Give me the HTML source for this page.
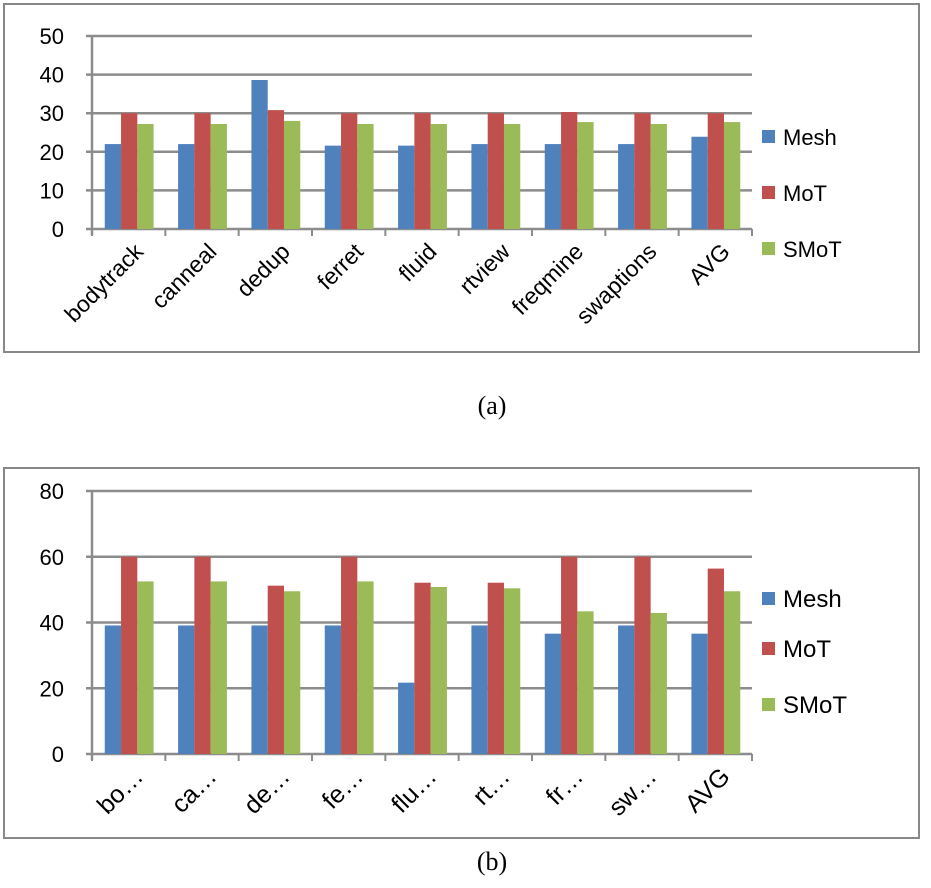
<!DOCTYPE html>
<html><head><meta charset="utf-8"><style>
body{margin:0;background:#fff;width:931px;height:883px;overflow:hidden}
svg{font-family:"Liberation Sans",sans-serif}
</style></head><body>
<svg id="s" width="931" height="883">
<rect x="4" y="4" width="915" height="348" fill="none" stroke="#888" stroke-width="2"/>
<rect x="4" y="468" width="915" height="370" fill="none" stroke="#888" stroke-width="2"/>
<text x="492" y="414" font-family="Liberation Serif" font-size="26" text-anchor="middle">(a)</text>
<text x="492" y="870" font-family="Liberation Serif" font-size="26" text-anchor="middle">(b)</text>
</svg>
<script>
const catsA=["bodytrack","canneal","dedup","ferret","fluid","rtview","freqmine","swaptions","AVG"];
const catsB=["bo…","ca…","de…","fe…","flu…","rt…","fr…","sw…","AVG"];
const seriesNames=["Mesh","MoT","SMoT"];
const meshA=[22,22,38.6,21.6,21.6,22,22,22,23.9];
const motA=[30,30,30.8,30,30,30,30.3,30,30];
const smotA=[27.2,27.2,28,27.2,27.2,27.2,27.7,27.2,27.7];
const meshB=[39.1,39.1,39.1,39.1,21.7,39.1,36.6,39.1,36.6];
const motB=[60,60,51.2,60,52.1,52.1,60,60,56.4];
const smotB=[52.5,52.5,49.5,52.5,50.8,50.4,43.4,42.9,49.5];
const ticksA=[0,10,20,30,40,50];
const ticksB=[0,20,40,60,80];
const colors=["#4f81bd","#c0504d","#9bbb59"];
const NS="http://www.w3.org/2000/svg";
const svg=document.getElementById('s');
function el(t,a){const e=document.createElementNS(NS,t);for(const k in a)e.setAttribute(k,a[k]);svg.appendChild(e);return e;}
function chart(id,cats,series,ticks,y0,y1,legY,fs,lfs){
  const x0=92,x1=752,max=ticks[ticks.length-1];
  const ys=v=>y0-(v/max)*(y0-y1);
  const cw=(x1-x0)/cats.length;
  ticks.forEach(t=>{
    const l=el('line',{x1:x0-6,x2:x1,y1:ys(t),y2:ys(t),stroke:'#8c8c8c','stroke-width':2.5});
    
    
    const tx=el('text',{x:x0-28,y:ys(t)+8,'font-size':22,'text-anchor':'end'});
    tx.textContent=t;
    
    
  });
  const ax=el('line',{x1:x0,x2:x0,y1:y1,y2:y0+6,stroke:'#8c8c8c','stroke-width':2.5});
  
  
  for(let i=0;i<=cats.length;i++){
    const t=el('line',{x1:x0+i*cw,x2:x0+i*cw,y1:y0,y2:y0+7,stroke:'#8c8c8c','stroke-width':2});
    
    
  }
  cats.forEach((c,i)=>{
    series.forEach((s,j)=>{
      const bx=x0+i*cw+cw*0.174+j*cw*0.222;
      const r=el('rect',{x:bx,y:ys(s[i]),width:cw*0.222,height:y0-ys(s[i]),fill:colors[j]});
      
      
    });
    const cx=x0+(i+0.5)*cw+16, cy=y0+24;
    const tx=el('text',{x:cx,y:cy,'font-size':fs,'text-anchor':'end',transform:`rotate(-45 ${cx} ${cy})`});
    tx.textContent=c;
    
    
  });
  seriesNames.forEach((n,j)=>{
    const r=el('rect',{x:762,y:legY[j]-7,width:13,height:13,fill:colors[j]});
    
    
    const t=el('text',{x:783,y:legY[j]+8,'font-size':lfs});
    t.textContent=n;
    
    
  });
}
chart('chart-a',catsA,[meshA,motA,smotA],ticksA,229,36,[137,193,249],23,22);
chart('chart-b',catsB,[meshB,motB,smotB],ticksB,754,491,[599,649,705],25,24);
</script>
</body></html>
